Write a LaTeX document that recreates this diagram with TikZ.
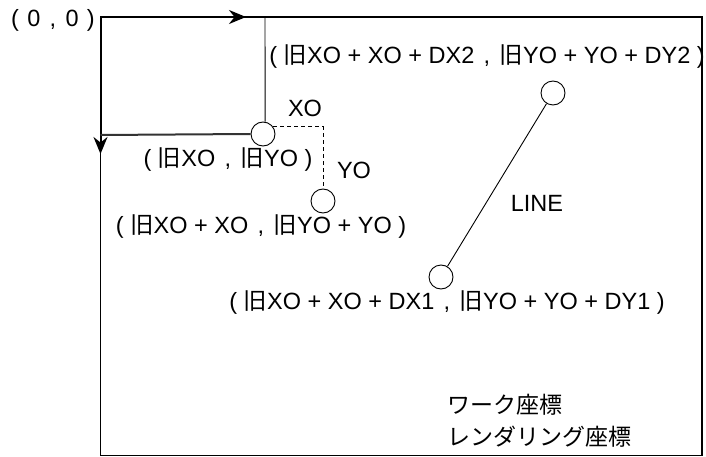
\documentclass[tikz,border=0pt]{standalone}
\usepackage{fontspec}
\setmainfont{Liberation Sans}
\newfontfamily\cjk{Noto Sans CJK JP}
\usepackage{tikz}
\usetikzlibrary{arrows.meta,positioning,calc}
\newcommand{\kyu}{{\cjk 旧}}
\newcommand{\sepc}{\hskip.4em,\hskip.4em}
\tikzset{
  pt/.style={circle,draw=black,fill=white,minimum size=24pt,inner sep=0pt,line width=.9pt},
  frame/.style={line width=1.3pt,black},
  axis/.style={line width=2pt,black,-{Stealth[length=17pt,width=14pt]}},
  thin/.style={line width=.9pt,black},
  offs/.style={line width=.9pt,dashed,dash pattern=on 4pt off 3pt},
  lab/.style={font=\fontsize{23.5}{32}\selectfont,inner sep=0pt}
}
\begin{document}
\begin{tikzpicture}[x=1pt,y=-1pt]
  \useasboundingbox (0,0) rectangle (706,457);
  \draw[frame] (100.5,17) rectangle (702,455.5);
  \coordinate (o) at (100.5,17);
  \coordinate (ax) at (246,17);
  \coordinate (ay) at (100.5,154);

  % old origin
  \node[pt] (c1) at (263,134) {};
  \node[pt] (c2) at (323,201) {};
  \draw[axis] (o) -- (ax);
  \draw[axis] (o) -- (ay);
  \draw[thin] (265,17) -- (c1.80);
  \draw[line width=2pt,black!80] (100.5,135) -- (c1.west);
  \draw[offs] (c1.35) -- (c2.north |- c1.35) -- (c2.north);

  % line
  \node[pt] (c3) at (553,93) {};
  \node[pt] (c4) at (441,277) {};
  \draw[thin] (c4) -- (c3);

  \node[lab] (l0) at (53,20) {(\hskip.35em 0\sepc 0\hskip.35em)};
  \node[lab] (l2) at (487,57) {( \kyu XO + XO + DX2\sepc\kyu YO + YO + DY2 )};
  \node[lab] (lxo) at (305,108) {XO};
  \node[lab] (l1) at (228,160) {( \kyu XO\sepc\kyu YO )};
  \node[lab] (lyo) at (354,170) {YO};
  \node[lab] (lo) at (261,227) {( \kyu XO + XO\sepc\kyu YO + YO )};
  \node[lab] (lline) at (537,203) {LINE};
  \node[lab] (l3) at (447,303) {( \kyu XO + XO + DX1\sepc\kyu YO + YO + DY1 )};
  \node[lab,anchor=west,align=left,font=\cjk\fontsize{23}{32}\selectfont] (lw) at (447,421) {ワーク座標\\レンダリング座標};
\end{tikzpicture}
\end{document}
